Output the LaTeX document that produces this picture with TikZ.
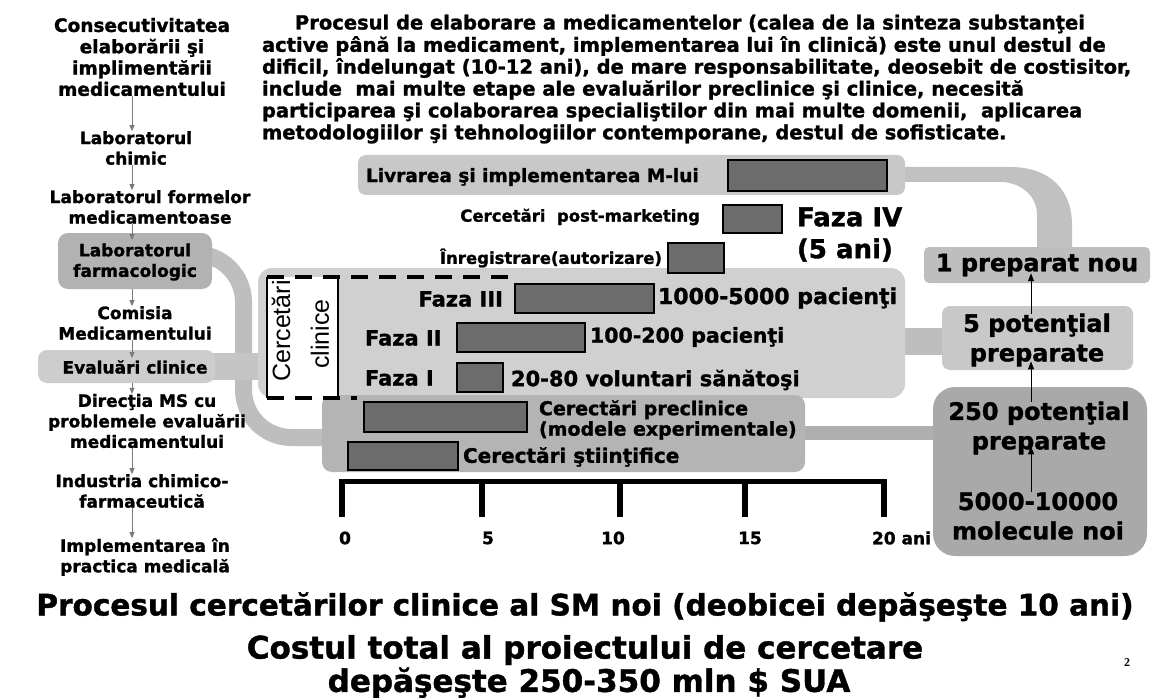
\documentclass[tikz,border=0pt]{standalone}
\usepackage{fontspec}
\setmainfont{DejaVu Sans}[BoldFeatures={FakeBold=1.3}]
\newfontfamily\lib{Liberation Sans}
\newfontfamily\serifn{Liberation Serif}
\usetikzlibrary{arrows.meta}
\newcommand\fsz[2]{\fontsize{#1}{#2}\selectfont}
\definecolor{pnl}{HTML}{C8C8C8}
\definecolor{clinc}{HTML}{D0D0D0}
\definecolor{farmc}{HTML}{B2B2B2}
\definecolor{evalc}{HTML}{CDCDCD}
\definecolor{darkp}{HTML}{A9A9A9}
\definecolor{cnn}{HTML}{BEBEBE}
\definecolor{barc}{HTML}{6C6C6C}
\definecolor{arrg}{HTML}{7A7A7A}
\pgfdeclarelayer{bg}
\pgfsetlayers{bg,main}
\begin{document}
\begin{tikzpicture}[x=1pt,y=-1pt,
  every node/.style={inner sep=0pt,outer sep=0pt},
  panel/.style={anchor=north west,rounded corners=#1},
  bar/.style={anchor=north west,fill=barc,draw=black,line width=1.5pt},
  lt/.style={font=\bfseries\fsz{17}{20.5},align=center},
  tt/.style={font=\bfseries\fsz{19.5}{22},anchor=west},
  lab/.style={font=\bfseries\fsz{#1}{#1}},
  big/.style={font=\bfseries\fsz{24}{29.5},align=center},
  la/.style={draw=arrg,line width=0.9pt,-{Triangle[length=6pt,width=5pt]}},
  ua/.style={draw=black,line width=1pt,-{Triangle[length=8pt,width=6pt]}},
  dsh/.style={draw=black,line width=3.5pt,dash pattern=on 17pt off 11pt},
  cband/.style={draw=cnn},
  bot/.style={font=\bfseries\fsz{#1}{#1}},
]
\useasboundingbox (0,0) rectangle (1160,698);
\begin{pgfonlayer}{bg}
  \fill[white] (0,0) rectangle (1160,698);
\end{pgfonlayer}

% ---------- title paragraph
\node[tt] (t1) at (295,24) {Procesul de elaborare a medicamentelor (calea de la sinteza substanţei};
\node[tt] (t2) at (262,46) {active până la medicament, implementarea lui în clinică) este unul destul de};
\node[tt] (t3) at (262,68) {dificil, îndelungat (10-12 ani), de mare responsabilitate, deosebit de costisitor,};
\node[tt] (t4) at (262,90) {include\ \ mai multe etape ale evaluărilor preclinice şi clinice, necesită};
\node[tt] (t5) at (262,112) {participarea şi colaborarea specialiştilor din mai multe domenii,\ \ aplicarea};
\node[tt] (t6) at (262,134) {metodologiilor şi tehnologiilor contemporane, destul de sofisticate.};

% ---------- left column
\node[panel=10pt,fill=farmc,minimum width=154pt,minimum height=56pt] (farm) at (58,233) {};
\node[panel=9pt,fill=evalc,minimum width=177pt,minimum height=33pt] (eval) at (38,350) {};

\node[lt,font=\bfseries\fsz{18.5}{21.3}] (L0) at (142,57) {Consecutivitatea\\elaborării şi\\implimentării\\medicamentului};
\node[lt] (L1) at (136,148) {Laboratorul\\chimic};
\node[lt] (L2) at (150,207) {Laboratorul formelor\\medicamentoase};
\node[lt] (farmt) at (135,262) {Laboratorul\\farmacologic};
\node[lt] (L3) at (135,323) {Comisia\\Medicamentului};
\node[lt] (evalt) at (135,367) {Evaluări clinice};
\node[lt] (L4) at (147,421) {Direcţia MS cu\\problemele evaluării\\medicamentului};
\node[lt] (L5) at (142,491) {Industria chimico-\\farmaceutică};
\node[lt] (L6) at (145,557) {Implementarea în\\practica medicală};

\coordinate (ax) at (132,0);
\draw[la] (L0.south -| ax) -- (L1.north -| ax);
\draw[la] (L1.south -| ax) -- (L2.north -| ax);
\draw[la,shorten >=-7pt] (L2.south -| ax) -- (farm.north -| ax);
\draw[la] (farm.south -| ax) -- (L3.north -| ax);
\draw[la,shorten >=-8pt] (L3.south -| ax) -- (eval.north -| ax);
\draw[la] (eval.south -| ax) -- (L4.north -| ax);
\draw[la] (L4.south -| ax) -- (L5.north -| ax);
\draw[la] (L5.south -| ax) -- (L6.north -| ax);

% ---------- central panels
\node[panel=8pt,fill=pnl,minimum width=547pt,minimum height=40pt] (liv) at (358,155) {};
\node[panel=14pt,fill=clinc,minimum width=647pt,minimum height=130pt] (clin) at (258,268) {};
\node[panel=10pt,fill=cnn!95!black,minimum width=483pt,minimum height=77pt] (precl) at (322,395) {};

% right panels
\node[panel=5pt,fill=pnl!95!black,minimum width=226pt,minimum height=36pt] (prep1) at (924,247) {};
\node[panel=8pt,fill=pnl,minimum width=191pt,minimum height=64pt] (pot5) at (942,306) {};
\node[panel=22pt,fill=darkp,minimum width=214pt,minimum height=169pt] (pot250) at (933,387) {};

% ---------- connectors (behind panels)
\begin{pgfonlayer}{bg}
  % farmacologic -> preclinice
  \coordinate (fa) at ([yshift=7pt]farm.east);
  \coordinate (fb) at (243.5,0);
  \coordinate (fc) at ([yshift=-4pt]precl.west);
  \draw[cband,line width=17pt,rounded corners=48pt] ([xshift=-5pt]fa) -- (fa -| fb) -- (fc -| fb) -- ([xshift=8pt]fc);
  % evaluari -> clinical box
  \coordinate (ea) at (eval.east);
  \draw[cband,draw=evalc!96!black,line width=27pt] ([xshift=-5pt]ea) -- ([xshift=12pt]ea -| clin.west);
  % clinical box -> 5 potential
  \coordinate (ca) at ([yshift=-8.5pt]clin.east);
  \draw[cband,line width=27pt] ([xshift=-4pt]ca) -- ([xshift=4pt]ca -| pot5.west);
  % preclinice -> 250
  \coordinate (pa) at ([yshift=0.5pt]precl.east);
  \draw[cband,draw=cnn!92!black,line width=14pt] ([xshift=-4pt]pa) -- ([xshift=4pt]pa -| pot250.west);
  % livrarea -> 1 preparat nou
  \fill[cnn!95!white] ([yshift=8pt,xshift=-4pt]liv.east) -- (1010,167) .. controls (1050,167) and (1072,190) .. (1072,225)
        -- (1072,252) -- (1037,252) -- (1037,215) .. controls (1037,195) and (1020,182) .. (1000,182)
        -- ([yshift=-7pt,xshift=-4pt]liv.east) -- cycle;
\end{pgfonlayer}

% ---------- bars
\node[bar,minimum width=159pt,minimum height=31pt] (bliv) at (728,160) {};
\node[bar,minimum width=59pt,minimum height=28pt] (bpost) at (723,205) {};
\node[bar,minimum width=56pt,minimum height=30pt] (breg) at (668,243) {};
\node[bar,minimum width=139pt,minimum height=29pt] (b3) at (515,284) {};
\node[bar,minimum width=128pt,minimum height=29pt] (b2) at (457,323) {};
\node[bar,minimum width=46pt,minimum height=29pt] (b1) at (457,363) {};
\node[bar,minimum width=163pt,minimum height=30pt] (bpre) at (364,402) {};
\node[bar,minimum width=110pt,minimum height=28pt] (bsci) at (348,442) {};

% ---------- Cercetari clinice box
\node[anchor=north west,fill=white,minimum width=71pt,minimum height=121pt] (cbox) at (267,277) {};
\draw[black,line width=1.2pt] (cbox.north west) -- (cbox.south west);
\draw[black,line width=1.2pt] (cbox.north east) -- (cbox.south east);
\coordinate (dtop) at (517,0);
\coordinate (dbot) at (357,0);
\draw[dsh] (cbox.north west) -- (cbox.north west -| dtop);
\draw[dsh] (cbox.south west) -- (cbox.south west -| dbot);
\node[rotate=90,font=\lib\fsz{25}{25}] (cc1) at (281,331) {Cercetări};
\node[rotate=90,font=\lib\fsz{25}{25}] (cc2) at (320,334) {clinice};

% ---------- central labels
\node[lab=18.5,anchor=west] (livt) at (366,177) {Livrarea şi implementarea M-lui};
\node[lab=16.5,anchor=east] (postt) at (700,217) {Cercetări\ \ post-marketing};
\node[lab=16.5,anchor=east] (regt) at (662,258) {Înregistrare(autorizare)};
\node[lab=26,anchor=west] (f4) at (797,217) {Faza IV};
\node[lab=26,anchor=west] (f4b) at (797,250) {(5 ani)};
\node[lab=21,anchor=east] (fz3) at (503,299) {Faza III};
\node[lab=22,anchor=west] (l3) at (658,298) {1000-5000 pacienţi};
\node[lab=21,anchor=west] (fz2) at (365,338) {Faza II};
\node[lab=20.5,anchor=west] (l2) at (590,337) {100-200 pacienţi};
\node[lab=21,anchor=west] (fz1) at (365,378) {Faza I};
\node[lab=21,anchor=west] (l1) at (511,380) {20-80 voluntari sănătoşi};
\node[anchor=west,align=left,font=\bfseries\fsz{19}{20.5}] (pret) at (539,420) {Cerectări preclinice\\(modele experimentale)};
\node[lab=20,anchor=west] (scit) at (463,457) {Cerectări ştiinţifice};

% ---------- right column texts
\node[big] (prep1t) at (prep1.center) {1 preparat nou};
\node[big] (pot5t) at (1037,340) {5 potenţial\\preparate};
\node[big] (p250t) at (1039,428) {250 potenţial\\preparate};
\node[big] (m1) at (1038,516) {5000-10000\\molecule noi};
\coordinate (arx) at (1031,0);
\draw[ua,shorten >=-8pt] (m1.north -| arx) -- (p250t.south -| arx);
\draw[ua,shorten >=-5pt] (p250t.north -| arx) -- (pot5t.south -| arx);
\draw[ua,shorten >=-3pt] (pot5t.north -| arx) -- (prep1t.south -| arx);

% ---------- time axis
\draw[line width=5pt] (340,481) -- (886.5,481);
\foreach \xx in {342,482,620,745,884} \draw[line width=6pt] (\xx,479) -- (\xx,517);
\node[lab=17] (a0) at (345,538) {0};
\node[lab=17] (a5) at (488,538) {5};
\node[lab=17] (a10) at (613,538) {10};
\node[lab=17] (a15) at (750,538) {15};
\node[lab=17,anchor=west] (a20) at (872,538) {20 ani};

% ---------- bottom texts
\node[bot=29.5] (bt1) at (585,607) {Procesul cercetărilor clinice al SM noi (deobicei depăşeşte 10 ani)};
\node[bot=31] (bt2) at (585,650) {Costul total al proiectului de cercetare};
\node[bot=31] (bt3) at (589,683) {depăşeşte 250-350 mln \$ SUA};
\node[font=\serifn\bfseries\fsz{12}{12}] (pg) at (1127,663) {2};
\end{tikzpicture}
\end{document}
